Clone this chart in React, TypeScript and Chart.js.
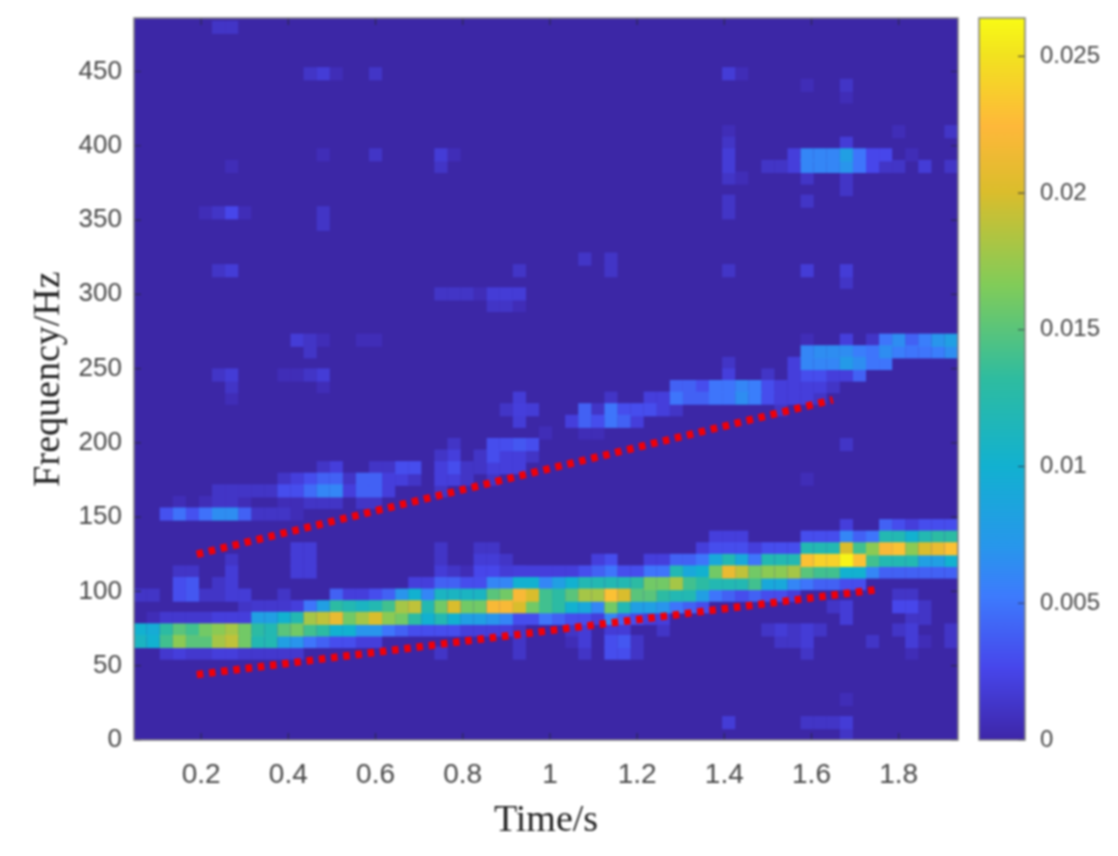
import { useEffect, useRef } from "react";
import { Chart, registerables } from "chart.js";

Chart.register(...registerables);

const timeBins = [
  0.06, 0.09, 0.12, 0.15, 0.18, 0.21, 0.24, 0.27, 0.3, 0.33, 0.36, 0.39, 0.42, 0.45, 0.48, 0.51,
  0.54, 0.57, 0.6, 0.63, 0.66, 0.69, 0.72, 0.75, 0.78, 0.81, 0.84, 0.87, 0.9, 0.93, 0.96, 0.99,
  1.02, 1.05, 1.08, 1.11, 1.14, 1.17, 1.2, 1.23, 1.26, 1.29, 1.32, 1.35, 1.38, 1.41, 1.44, 1.47,
  1.5, 1.53, 1.56, 1.59, 1.62, 1.65, 1.68, 1.71, 1.74, 1.77, 1.8, 1.83, 1.86, 1.89, 1.92, 1.95,
];

const freqBins = [
  3.9, 11.7, 19.5, 27.3, 35.1, 42.9, 50.7, 58.5, 66.3, 74.1, 81.9, 89.7, 97.5, 105.3, 113.1, 120.9,
  128.7, 136.5, 144.3, 152.1, 159.9, 167.7, 175.5, 183.3, 191.1, 198.9, 206.7, 214.5, 222.3, 230.1,
  237.9, 245.7, 253.5, 261.3, 269.1, 276.9, 284.7, 292.5, 300.3, 308.1, 315.9, 323.7, 331.5, 339.3,
  347.1, 354.9, 362.7, 370.5, 378.3, 386.1, 393.9, 401.7, 409.5, 417.3, 425.1, 432.9, 440.7, 448.5,
  456.3, 464.1, 471.9, 479.7,
];

// each row: time bin, first freq bin, then magnitudes (x 1e-3) going up in frequency
const lowerBand = [
  [0, 8, 11, 10], [1, 8, 10, 9.5], [2, 7, 1.5, 14, 13, 1.5], [3, 7, 2, 17, 15, 1.5], [4, 7, 1.5, 15, 14, 1.5],
  [5, 7, 1.5, 15, 16, 1.5], [6, 7, 2, 18, 17, 2], [7, 7, 2, 19, 18, 2], [8, 7, 1.5, 16, 16, 2],
  [9, 7, 1.5, 12, 13, 8, 1.5], [10, 7, 1.5, 12, 12, 8, 1.5], [11, 7, 1.5, 8, 15, 10, 1.5], [12, 7, 1.5, 7, 16, 12, 2],
  [13, 8, 5, 14, 18, 5], [14, 8, 4, 13, 19, 8], [15, 8, 3, 10, 21, 13, 4], [16, 8, 3, 10, 16, 12, 2],
  [17, 8, 2, 7, 18, 11, 2], [18, 8, 2, 7, 20, 12, 3], [19, 9, 5, 17, 14, 4], [20, 9, 4, 16, 18, 7],
  [21, 9, 3, 13, 19, 10, 2], [22, 9, 3, 10, 12, 6, 2], [23, 9, 3, 12, 16, 11, 4], [24, 9, 3, 10, 20, 11, 4],
  [25, 9, 2, 8, 16, 11, 3], [26, 9, 2, 8, 16, 11, 3], [27, 9, 2, 7, 22, 15, 6], [28, 9, 2, 6, 22, 16, 6],
  [29, 10, 3, 20, 22, 10, 2], [30, 10, 3, 16, 20, 10, 2], [31, 10, 5, 14, 14, 6, 2], [32, 10, 4, 13, 13, 8, 2],
  [33, 10, 3, 10, 15, 10, 2], [34, 10, 3, 9, 18, 12, 3], [35, 10, 2, 6, 18, 12, 4, 2], [36, 10, 6, 16, 23, 12, 5, 3],
  [37, 10, 4, 12, 20, 12, 3], [38, 10, 3, 8, 15, 13, 3], [39, 10, 2, 8, 15, 16, 5, 2], [40, 10, 2, 7, 13, 16, 5, 2],
  [41, 11, 5, 12, 18, 12, 4], [42, 11, 4, 12, 14, 9, 4], [43, 11, 3, 8, 13, 10, 5, 2], [44, 12, 5, 12, 16, 9, 3, 2],
  [45, 12, 4, 12, 21, 12, 3, 2], [46, 12, 3, 12, 19, 9, 3, 2], [47, 12, 4, 14, 16, 5, 2], [48, 12, 3, 9, 17, 12, 3],
  [49, 12, 3, 9, 17, 12, 3], [50, 12, 2, 6, 18, 12, 3], [51, 13, 5, 15, 23, 12, 3], [52, 13, 4, 14, 24, 12, 3],
  [53, 13, 4, 14, 24, 12, 3], [54, 13, 3, 10, 26, 20, 6, 2], [55, 13, 3, 10, 23, 14, 4], [56, 14, 6, 14, 17, 5],
  [57, 14, 4, 12, 22, 12, 4], [58, 14, 4, 12, 23, 12, 3], [59, 14, 4, 12, 17, 10, 2], [60, 14, 4, 8, 20, 12, 3],
  [61, 14, 4, 8, 21, 13, 3], [62, 14, 4, 10, 23, 13, 3], [63, 14, 4, 10, 23, 13, 3],
];

const upperBand = [
  [2, 19, 3.2], [3, 19, 4.8, 0.6], [4, 19, 3.2], [5, 19, 4.8, 0.6], [6, 19, 6.5, 1.2, 1.2], [7, 19, 6.5, 1.2, 1.2], [8, 19, 4, 0.6, 1.2],
  [9, 19, 1.2, 0, 1.2], [10, 19, 1.2, 0, 1.2], [11, 19, 1.2, 0.6, 3, 1.2], [12, 19, 0.6, 0.6, 3, 2], [13, 20, 1.2, 4.5, 3],
  [14, 20, 1.2, 6, 4, 1.2], [15, 20, 1.2, 6, 4, 2], [16, 21, 2, 1.2], [17, 20, 1.2, 4, 4], [18, 20, 1.2, 4, 4, 1.2],
  [19, 21, 2, 2, 1.2], [20, 22, 2, 3], [21, 22, 1.2, 3], [23, 21, 1.2, 2, 2, 1.2], [24, 22, 2, 3, 2, 1.2],
  [25, 22, 1.2, 1.2], [26, 23, 1.2, 1.2], [27, 22, 1.2, 2, 3, 3], [28, 23, 2, 2, 3, 0, 0, 1.2], [29, 23, 2, 2, 3.5, 0, 1.8, 2, 1.8],
  [30, 24, 1.2, 3, 0, 0, 1.8], [33, 27, 2], [34, 26, 0.6, 4, 4], [35, 26, 0.6, 3, 1.2], [36, 27, 5, 5, 1.2], [37, 27, 4, 3],
  [38, 27, 2, 3], [39, 28, 3, 2], [40, 28, 2, 2], [41, 28, 1.2, 5, 4], [42, 29, 4, 4], [43, 29, 4, 3],
  [44, 29, 5, 5], [45, 29, 5, 5, 2, 1.2], [46, 29, 6.5, 6], [47, 29, 5.5, 5.5], [48, 29, 3, 3, 1.2], [49, 28, 1.2, 2, 2],
  [50, 29, 2, 2, 2, 2], [51, 29, 2, 2, 3, 6, 6, 0.6], [52, 29, 1.2, 2, 3, 6, 6.5], [53, 30, 1.2, 2, 6, 6.5], [54, 31, 2, 7.5, 6.5, 2],
  [55, 31, 4, 6.5, 5.5], [56, 32, 5, 5, 1.2], [57, 32, 5, 6.5, 5], [58, 33, 5.5, 6.5], [59, 33, 5, 4], [60, 33, 5, 5.5],
  [61, 33, 5.5, 7], [62, 33, 6.5, 8], [63, 33, 6.5, 8],
];

const band400 = [
  [48, 49, 1.2], [49, 49, 1.2], [50, 49, 2, 2], [51, 48, 1.2, 6, 6], [52, 49, 6, 6], [53, 49, 6, 6], [54, 48, 1.2, 7, 8, 1.8],
  [55, 49, 5, 5], [56, 49, 2.6, 2.6], [57, 49, 1.2, 2.6], [58, 49, 1.2], [59, 50, 0.6], [60, 49, 1.8], [62, 49, 1.2], [63, 49, 1.2],
];

const scattered = [
  [0, 12, 1.2], [1, 10, 0.6, 0, 1.2], [3, 12, 3, 3, 1.2], [4, 12, 3.5, 3.5, 1.2], [5, 12, 1.2], [6, 12, 1.2, 1.2], [7, 12, 1.8, 1.8, 1.8, 1.2],
  [8, 11, 1.2, 1.8], [11, 12, 1.2], [12, 14, 1.8, 1.8, 1.8], [13, 14, 1.8, 1.8, 1.8], [23, 13, 1.8, 1.8, 1.2, 1.2], [24, 13, 1.2, 1.2], [25, 13, 1.2, 0.6],
  [26, 14, 2.6, 1.8, 1.2], [27, 14, 2.6, 1.8, 1.2], [28, 14, 1.8, 1.2], [29, 7, 1.2, 1.2, 1.2], [29, 14, 1.2], [23, 7, 1.2],
  [33, 8, 0.6, 1.2], [34, 7, 1.2, 1.8, 1.8], [36, 7, 3, 3, 1.8], [37, 7, 3, 3.5, 1.8], [38, 7, 1.2, 1.2], [40, 9, 1.2],
  [49, 8, 1.2, 1.8], [50, 8, 1.2, 1.2], [48, 9, 1.2], [51, 7, 1.2, 1.8, 1.8], [52, 9, 1.2], [54, 10, 1.8, 1.8], [53, 11, 1.2], [56, 8, 1.2],
  [58, 9, 1.2, 0, 2.6, 1.2], [59, 7, 0.6, 1.8, 1.8, 1.2, 2.6, 1.2], [60, 8, 0.6, 0, 1.2, 1.2], [62, 8, 1.2, 1.2], [63, 8, 0.6, 1.2],
  [45, 1, 1.8], [51, 1, 1.2], [52, 1, 1.2], [53, 1, 1.2], [54, 0, 1.2, 1.8], [54, 3, 0.6],
  [6, 61, 1.2], [7, 61, 1.2], [13, 57, 1.2], [14, 57, 1.8], [15, 57, 0.6], [18, 57, 1.2], [45, 57, 1.8], [46, 57, 0.6], [51, 56, 0.6],
  [54, 55, 0.6, 1.2], [58, 52, 0.6], [62, 52, 1.2], [63, 52, 0.6], [14, 50, 0.6], [18, 50, 1.2], [23, 49, 1.2, 1.8], [24, 50, 0.6],
  [7, 49, 0.6], [45, 45, 1.2, 1.2, 0, 1.2, 1.8, 1.8, 1.2, 0.6], [46, 48, 0.6], [51, 46, 1.2], [54, 47, 1.2], [5, 45, 0.6], [6, 45, 1.2],
  [7, 45, 2.6], [8, 45, 0.6], [14, 44, 1.2, 1.2], [6, 40, 1.2], [7, 40, 1.8], [29, 40, 1.2], [34, 41, 1.2], [36, 40, 1.2, 1.2], [45, 40, 1.2],
  [51, 40, 1.8], [54, 39, 1.2, 1.8], [23, 38, 1.2], [24, 38, 1.2], [25, 38, 1.2], [26, 38, 0.6], [27, 37, 1.2, 1.8], [28, 37, 1.2, 1.8],
  [29, 37, 0.6, 1.8], [12, 34, 1.8], [13, 33, 1.2, 1.2], [14, 34, 0.6], [17, 34, 0.6], [18, 34, 0.6], [11, 31, 0.6], [12, 31, 0.6],
  [13, 31, 1.2], [14, 30, 0.6, 1.8], [6, 31, 1.2], [7, 29, 0.6, 1.2, 1.8], [54, 25, 1.2], [51, 22, 0.6], [31, 26, 0.6],
];

const parulaStops = ["#3e26a8", "#4746eb", "#3d7bfd", "#2797eb", "#12b1d0", "#2ebca0", "#81cc59", "#dbbd2c", "#feb83a", "#f2e31f", "#f9fb15"];
const stopPositions = [0, 0.1, 0.2, 0.27, 0.38, 0.5, 0.63, 0.76, 0.85, 0.95, 1];

const xTicks = [0.2, 0.4, 0.6, 0.8, 1, 1.2, 1.4, 1.6, 1.8];
const yTicks = [0, 50, 100, 150, 200, 250, 300, 350, 400, 450];
const colorTicks = [0, 0.005, 0.01, 0.015, 0.02, 0.025];
const colorMax = 0.0264;

const upperGuide = [{ x: 0.19, y: 125 }, { x: 1.649, y: 229 }];
const lowerGuide = [{ x: 0.19, y: 44 }, { x: 1.745, y: 101 }];

function hexToRgb(hex: string) {
  return [1, 3, 5].map((i) => parseInt(hex.slice(i, i + 2), 16));
}

function parula(value: number) {
  const t = Math.min(value / colorMax, 1);
  let i = 0;
  while (i < stopPositions.length - 2 && t > stopPositions[i + 1]) i += 1;
  const f = (t - stopPositions[i]) / (stopPositions[i + 1] - stopPositions[i]);
  const a = hexToRgb(parulaStops[i]);
  const b = hexToRgb(parulaStops[i + 1]);
  const c = a.map((v, k) => Math.round(v + (b[k] - v) * f));
  return `rgb(${c[0]},${c[1]},${c[2]})`;
}

function buildCells() {
  const cells: { x: number; y: number; v: number }[] = [];
  for (const row of [...scattered, ...upperBand, ...band400, ...lowerBand]) {
    const [col, start, ...vals] = row;
    vals.forEach((v, k) => {
      if (v > 0) cells.push({ x: timeBins[col], y: freqBins[start + k], v: v / 1000 });
    });
  }
  return cells.sort((a, b) => a.v - b.v);
}

const frame = {
  id: "frame",
  beforeDatasetsDraw(chart: any) {
    const fill = chart.options.plugins.frame.fill;
    if (!fill) return;
    const { ctx, chartArea: a } = chart;
    ctx.save();
    ctx.fillStyle = fill;
    ctx.fillRect(a.left, a.top, a.right - a.left, a.bottom - a.top);
    ctx.restore();
  },
  afterDatasetsDraw(chart: any) {
    const { ctx, chartArea: a, scales } = chart;
    const len = 7;
    ctx.save();
    ctx.strokeStyle = "rgba(40,40,60,0.75)";
    ctx.lineWidth = 1.2;
    ctx.beginPath();
    if (scales.x.type === "linear") {
      for (const t of scales.x.ticks) {
        const px = scales.x.getPixelForValue(t.value);
        ctx.moveTo(px, a.bottom);
        ctx.lineTo(px, a.bottom - len);
        ctx.moveTo(px, a.top);
        ctx.lineTo(px, a.top + len);
      }
    }
    for (const t of scales.y.ticks) {
      const py = scales.y.getPixelForValue(t.value);
      if (scales.x.type === "linear") {
        ctx.moveTo(a.left, py);
        ctx.lineTo(a.left + len, py);
      }
      ctx.moveTo(a.right, py);
      ctx.lineTo(a.right - len, py);
    }
    ctx.stroke();
    ctx.strokeStyle = "#808080";
    ctx.lineWidth = 1.5;
    ctx.strokeRect(a.left, a.top, a.right - a.left, a.bottom - a.top);
    ctx.restore();
  },
};

const tickFont = { family: "'Liberation Sans', Arial, sans-serif", size: 26 };
const titleFont = { family: "'Liberation Serif', 'Times New Roman', serif", size: 38 };
const inkColor = "#474747";

export default function App() {
  const mainRef = useRef<HTMLCanvasElement | null>(null);
  const barRef = useRef<HTMLCanvasElement | null>(null);

  useEffect(() => {
    if (!mainRef.current || !barRef.current) return;

    const guide = (data: { x: number; y: number }[]) => ({
      type: "scatter" as const,
      data,
      showLine: true,
      order: 1,
      borderColor: "#f00008",
      borderWidth: 7.5,
      borderDash: [6.5, 5.8],
      pointRadius: 0,
    });

    const chart = new Chart(mainRef.current, {
      type: "scatter",
      data: {
        datasets: [
          guide(upperGuide),
          guide(lowerGuide),
          {
            data: buildCells(),
            order: 2,
            pointStyle: "rect",
            pointRadius: 9.3,
            borderWidth: 0,
            backgroundColor: (c: any) => parula(c.raw ? c.raw.v : 0),
          },
        ],
      },
      options: {
        responsive: false,
        animation: false,
        events: [],
        layout: { padding: { left: 0, right: 160, top: 18, bottom: 0 } },
        plugins: { legend: { display: false }, tooltip: { enabled: false }, frame: { fill: "#3c27a6" } },
        scales: {
          x: {
            type: "linear",
            min: 0.046,
            max: 1.936,
            afterBuildTicks: (s: any) => {
              s.ticks = xTicks.map((value) => ({ value }));
            },
            afterFit: (s: any) => {
              s.height = 116;
              s.paddingLeft = 0;
              s.paddingRight = 0;
            },
            grid: { display: false },
            border: { display: false },
            ticks: { font: { ...tickFont, size: 28 }, color: inkColor, padding: 10, maxRotation: 0, autoSkip: false, callback: (v: any) => String(v) },
            title: { display: true, text: "Time/s", font: titleFont, color: "#222222", padding: { top: 0, bottom: 12 } },
          },
          y: {
            type: "linear",
            min: 0,
            max: 486,
            afterBuildTicks: (s: any) => {
              s.ticks = yTicks.map((value) => ({ value }));
            },
            afterFit: (s: any) => {
              s.width = 134;
              s.paddingTop = 0;
              s.paddingBottom = 0;
            },
            grid: { display: false },
            border: { display: false },
            ticks: { font: tickFont, color: inkColor, padding: 4, autoSkip: false, callback: (v: any) => String(v) },
            title: { display: true, text: "Frequency/Hz", font: titleFont, color: "#222222", padding: { top: 26, bottom: 0 } },
          },
        },
      },
      plugins: [frame],
    } as any);

    const bar = new Chart(barRef.current, {
      type: "bar",
      data: {
        labels: ["scale"],
        datasets: [
          {
            data: [colorMax],
            barPercentage: 1,
            categoryPercentage: 1,
            backgroundColor: (c: any) => {
              const { ctx, chartArea } = c.chart;
              if (!chartArea) return parulaStops[0];
              const g = ctx.createLinearGradient(0, chartArea.bottom, 0, chartArea.top);
              parulaStops.forEach((color, i) => g.addColorStop(stopPositions[i], color));
              return g;
            },
          },
        ],
      },
      options: {
        responsive: false,
        animation: false,
        events: [],
        layout: { padding: { left: 1, right: 0, top: 18, bottom: 116 } },
        plugins: { legend: { display: false }, tooltip: { enabled: false }, frame: {} },
        scales: {
          x: { display: false },
          y: {
            position: "right",
            min: 0,
            max: colorMax,
            afterBuildTicks: (s: any) => {
              s.ticks = colorTicks.map((value) => ({ value }));
            },
            afterFit: (s: any) => {
              s.width = 92;
              s.paddingTop = 0;
              s.paddingBottom = 0;
            },
            grid: { display: false },
            border: { display: false },
            ticks: { font: { ...tickFont, size: 24 }, color: inkColor, padding: 7, autoSkip: false, callback: (v: any) => String(v) },
          },
        },
      },
      plugins: [frame],
    } as any);

    return () => {
      chart.destroy();
      bar.destroy();
    };
  }, []);

  return (
    <div style={{ position: "absolute", left: 0, top: 0, width: 1118, height: 856, overflow: "hidden", background: "#fff" }}>
      <canvas ref={mainRef} width={1118} height={856} style={{ position: "absolute", left: 0, top: 0, filter: "blur(1.3px)" }} />
      <canvas ref={barRef} width={139} height={856} style={{ position: "absolute", left: 978, top: 0, filter: "blur(1.3px)" }} />
    </div>
  );
}
